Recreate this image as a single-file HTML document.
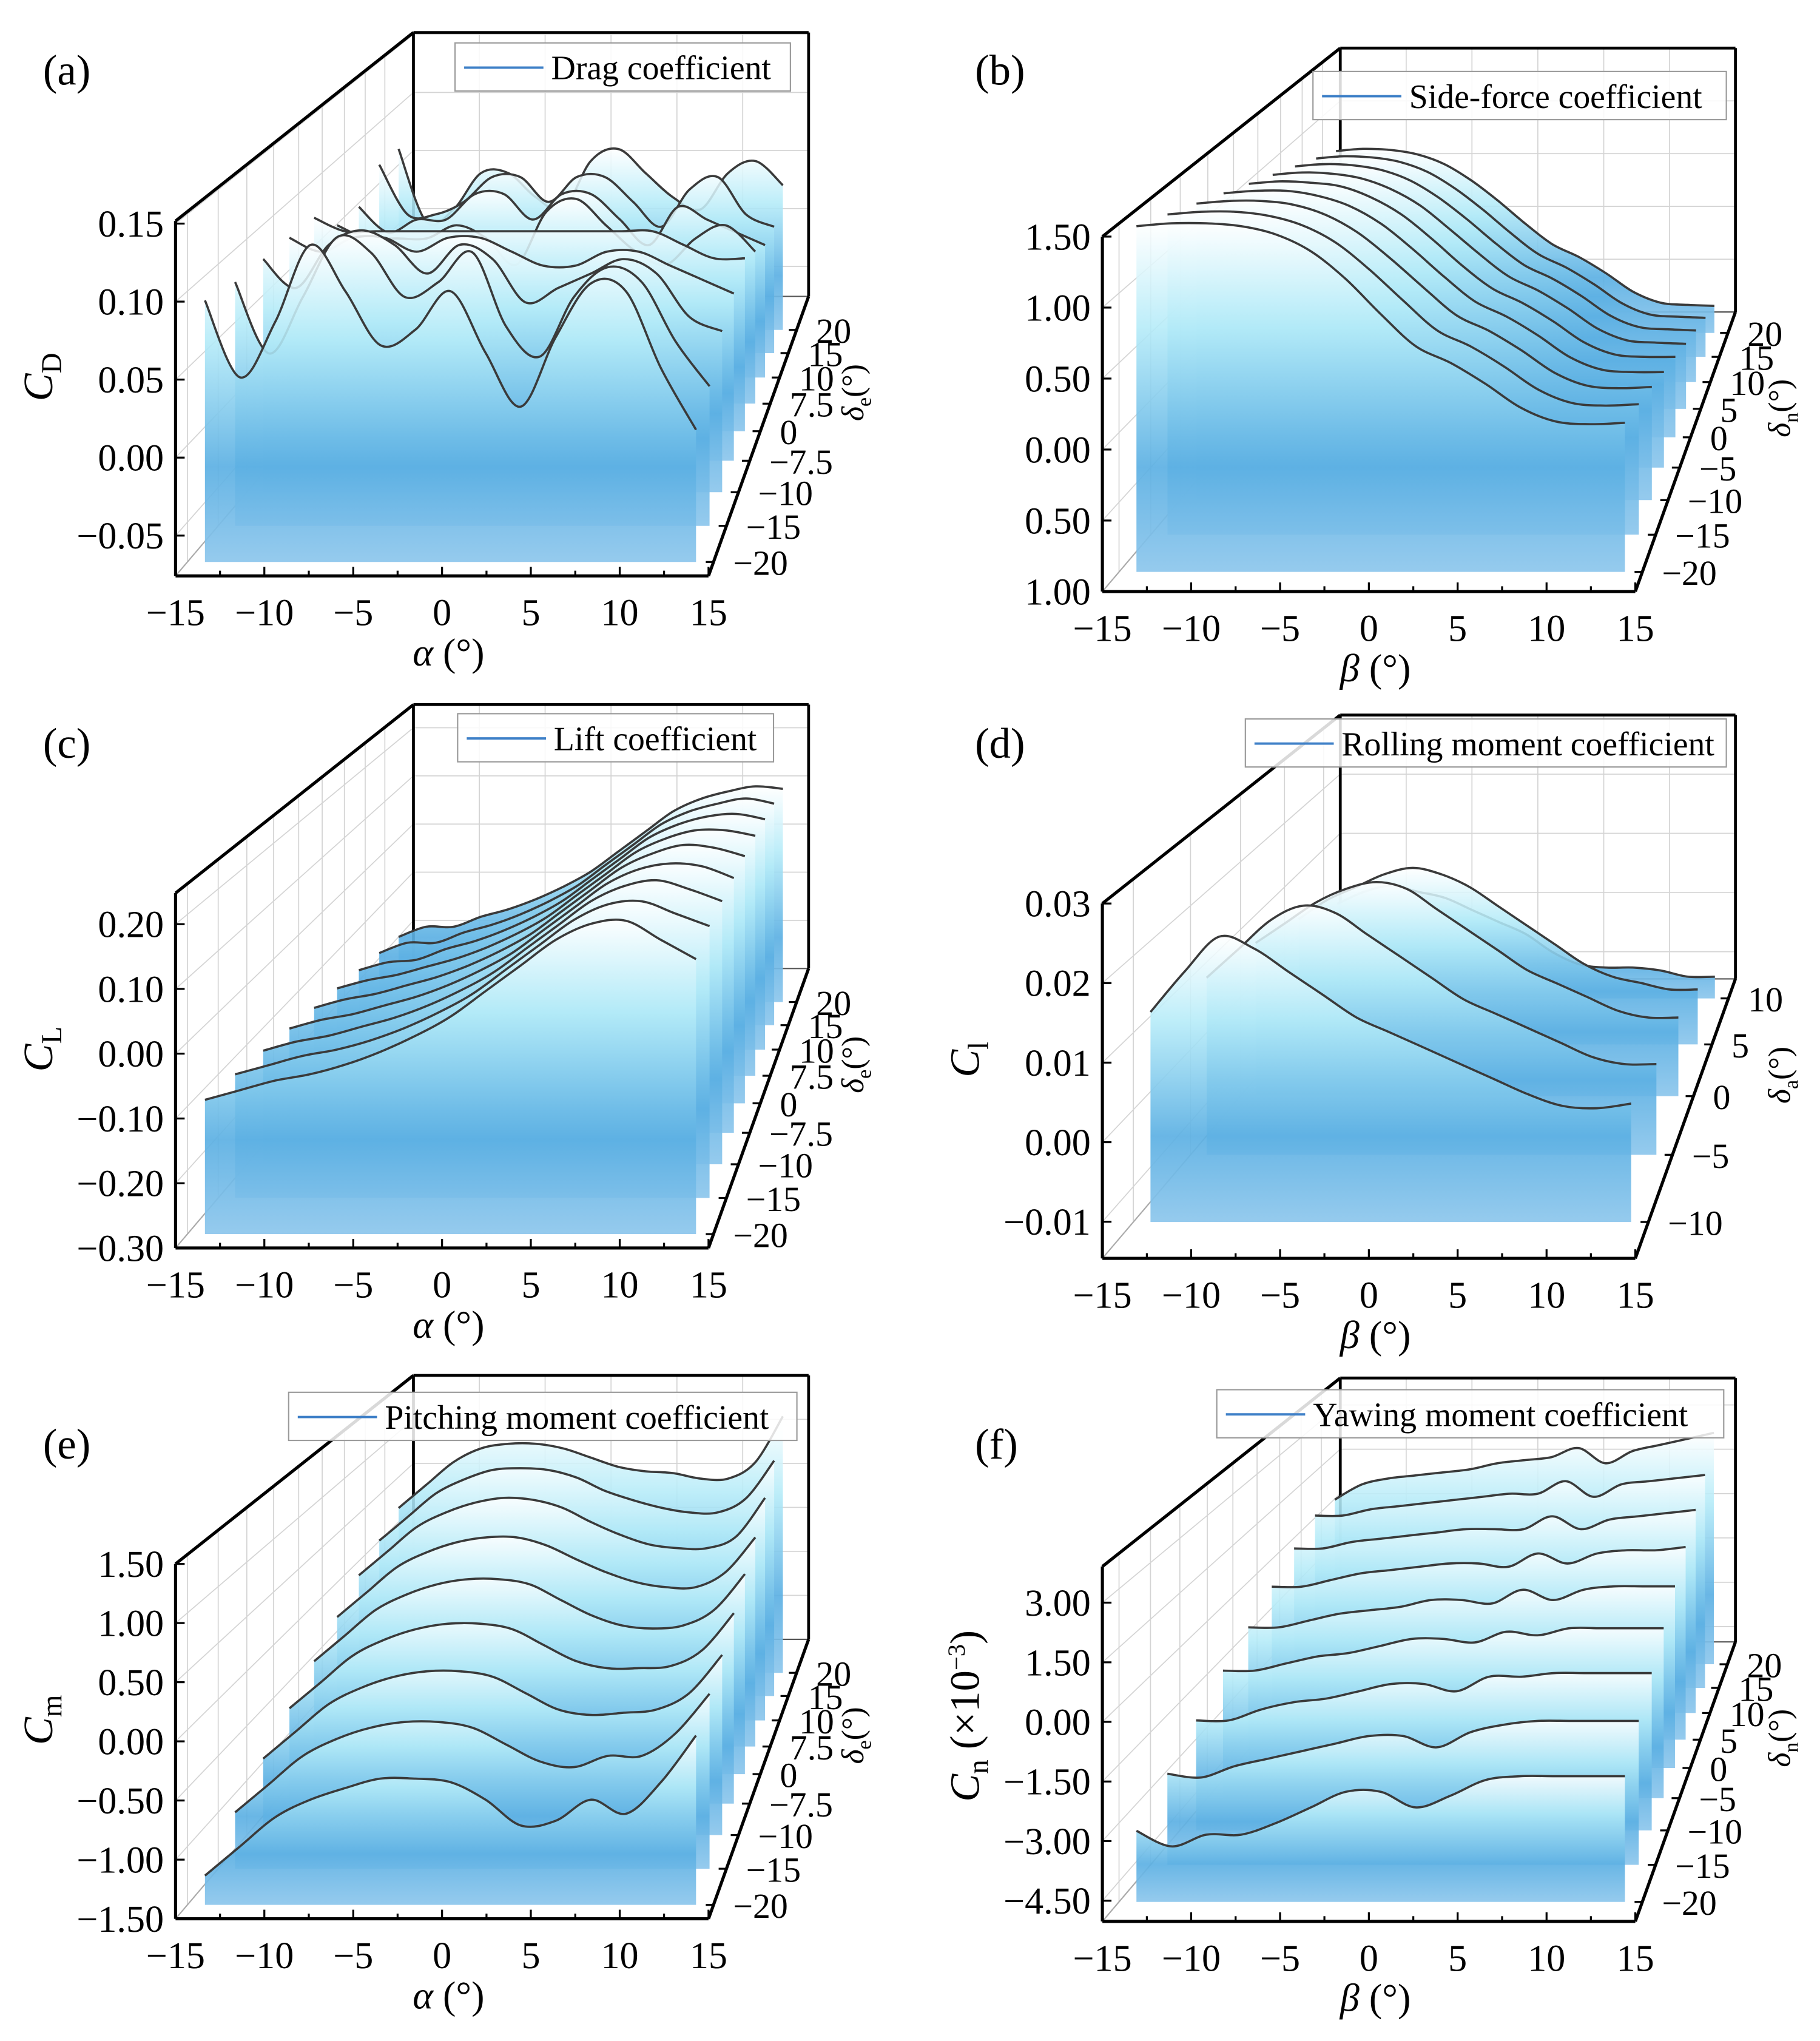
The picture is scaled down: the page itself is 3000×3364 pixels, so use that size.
<!DOCTYPE html>
<html><head><meta charset="utf-8">
<style>
html,body{margin:0;padding:0;background:#fff;}
svg{display:block;font-family:"Liberation Serif","DejaVu Serif",serif;}
</style></head>
<body>
<svg id="fig" xmlns="http://www.w3.org/2000/svg" width="3000" height="3364" viewBox="0 0 1400 1570">
<defs>
<linearGradient id="sliceGrad" x1="0" y1="0" x2="0" y2="1">
<stop offset="0" stop-color="#ffffff" stop-opacity="0.85"/>
<stop offset="0.3" stop-color="#b4ebf8" stop-opacity="0.88"/>
<stop offset="0.7" stop-color="#5cb0e3" stop-opacity="0.92"/>
<stop offset="1" stop-color="#8cc6ec" stop-opacity="0.92"/>
</linearGradient>
</defs>
</svg>
<script>
// ---------- data ----------
const xGrid = [-14,-12,-10,-8,-6,-4,-2,0,2,4,6,8,10,12,14];
const xTickValues = [-15,-10,-5,0,5,10,15];
const xTickLabels = ['\u221215','\u221210','\u22125','0','5','10','15'];

const dragTicks = [0.15,0.10,0.05,0.00,-0.05];
const dragTickLabels = ['0.15','0.10','0.05','0.00','\u22120.05'];
const elevDepthLabels = ['\u221220','\u221215','\u221210','\u22127.5','0','7.5','10','15','20'];
const dragCurves = [
 [0.094,0.044,0.08,0.13,0.10,0.065,0.075,0.10,0.06,0.025,0.07,0.105,0.10,0.05,0.01],
 [0.088,0.04,0.078,0.118,0.108,0.078,0.088,0.108,0.058,0.038,0.078,0.098,0.088,0.048,0.018],
 [0.086,0.066,0.096,0.106,0.096,0.076,0.096,0.086,0.056,0.066,0.076,0.086,0.076,0.046,0.036],
 [0.084,0.074,0.084,0.084,0.074,0.084,0.084,0.074,0.064,0.064,0.074,0.074,0.064,0.054,0.044],
 [0.082,0.072,0.072,0.072,0.072,0.072,0.072,0.072,0.072,0.072,0.072,0.072,0.062,0.052,0.052],
 [0.06,0.05,0.05,0.05,0.06,0.05,0.03,0.07,0.08,0.06,0.04,0.03,0.05,0.06,0.04],
 [0.058,0.038,0.048,0.048,0.068,0.068,0.048,0.068,0.068,0.048,0.028,0.058,0.048,0.038,0.028],
 [0.076,0.036,0.036,0.046,0.066,0.066,0.046,0.066,0.066,0.046,0.026,0.056,0.066,0.036,0.026],
 [0.074,0.014,0.024,0.054,0.054,0.034,0.024,0.064,0.074,0.054,0.034,0.024,0.054,0.064,0.044]
];

const sideTicks = [1.5,1.0,0.5,0.0,-0.5,-1.0];
const sideTickLabels = ['1.50','1.00','0.50','0.00','0.50','1.00'];
const rudderDepthLabels = ['\u221220','\u221215','\u221210','\u22125','0','5','10','15','20'];
const sideCurves = [
 [1.48,1.50,1.50,1.48,1.42,1.30,1.10,0.85,0.62,0.50,0.35,0.18,0.08,0.06,0.07],
 [1.38,1.40,1.40,1.37,1.30,1.17,0.97,0.74,0.52,0.40,0.25,0.08,-0.02,-0.04,-0.03],
 [1.28,1.30,1.30,1.27,1.19,1.05,0.85,0.63,0.42,0.30,0.15,-0.02,-0.12,-0.14,-0.13],
 [1.18,1.20,1.20,1.16,1.08,0.94,0.74,0.52,0.32,0.20,0.05,-0.12,-0.22,-0.24,-0.24],
 [1.08,1.10,1.09,1.06,0.97,0.83,0.63,0.41,0.22,0.10,-0.05,-0.22,-0.32,-0.34,-0.34],
 [0.98,1.00,0.99,0.95,0.86,0.72,0.52,0.31,0.12,0.00,-0.15,-0.32,-0.42,-0.44,-0.45],
 [0.88,0.90,0.89,0.85,0.76,0.61,0.42,0.21,0.02,-0.10,-0.25,-0.42,-0.52,-0.54,-0.55],
 [0.78,0.80,0.79,0.75,0.66,0.51,0.32,0.11,-0.08,-0.20,-0.35,-0.52,-0.62,-0.64,-0.65],
 [0.68,0.70,0.69,0.65,0.56,0.41,0.22,0.01,-0.18,-0.30,-0.45,-0.62,-0.72,-0.74,-0.75]
];

const liftTicks = [0.2,0.1,0.0,-0.1,-0.2,-0.3];
const liftTickLabels = ['0.20','0.10','0.00','\u22120.10','\u22120.20','\u22120.30'];
const liftCurves = [
 [-0.09,-0.075,-0.06,-0.05,-0.035,-0.015,0.01,0.04,0.08,0.12,0.16,0.185,0.19,0.16,0.13],
 [-0.10,-0.085,-0.07,-0.06,-0.045,-0.025,0.0,0.03,0.07,0.11,0.15,0.175,0.18,0.16,0.14],
 [-0.11,-0.095,-0.085,-0.07,-0.055,-0.035,-0.01,0.02,0.06,0.10,0.14,0.165,0.175,0.16,0.14],
 [-0.12,-0.105,-0.095,-0.08,-0.065,-0.045,-0.02,0.01,0.05,0.09,0.13,0.155,0.165,0.16,0.14],
 [-0.13,-0.115,-0.105,-0.09,-0.075,-0.055,-0.03,0.0,0.04,0.08,0.12,0.145,0.16,0.155,0.14],
 [-0.14,-0.125,-0.115,-0.10,-0.085,-0.065,-0.04,-0.01,0.03,0.07,0.11,0.135,0.15,0.15,0.14],
 [-0.15,-0.135,-0.13,-0.11,-0.095,-0.075,-0.05,-0.02,0.02,0.06,0.10,0.125,0.14,0.145,0.135],
 [-0.16,-0.14,-0.14,-0.12,-0.105,-0.085,-0.06,-0.03,0.01,0.05,0.09,0.115,0.13,0.14,0.13],
 [-0.17,-0.15,-0.15,-0.13,-0.115,-0.095,-0.07,-0.04,0.0,0.04,0.08,0.105,0.12,0.13,0.125]
];

const rollTicks = [0.03,0.02,0.01,0.00,-0.01];
const rollTickLabels = ['0.03','0.02','0.01','0.00','\u22120.01'];
const aileronDepthLabels = ['\u221210','\u22125','0','5','10'];
const rollCurves = [
 [0.0127,0.018,0.0225,0.021,0.018,0.015,0.012,0.010,0.008,0.006,0.004,0.002,0.0005,0.0002,0.0008],
 [0.010,0.014,0.018,0.020,0.019,0.016,0.013,0.010,0.007,0.005,0.003,0.001,-0.001,-0.002,-0.002],
 [0.008,0.011,0.014,0.016,0.017,0.016,0.013,0.010,0.007,0.004,0.002,0.000,-0.002,-0.003,-0.003],
 [0.005,0.008,0.010,0.012,0.013,0.012,0.010,0.007,0.004,0.001,-0.002,-0.004,-0.005,-0.006,-0.006],
 [0.001,0.003,0.004,0.003,0.002,0.000,-0.002,-0.004,-0.007,-0.009,-0.0095,-0.0095,-0.010,-0.011,-0.011]
];

const pitchTicks = [1.5,1.0,0.5,0.0,-0.5,-1.0,-1.5];
const pitchTickLabels = ['1.50','1.00','0.50','0.00','\u22120.50','\u22121.00','\u22121.50'];
const pitchCurves = [
 [-1.25,-1.0,-0.75,-0.6,-0.5,-0.42,-0.42,-0.45,-0.6,-0.82,-0.78,-0.6,-0.72,-0.45,-0.05],
 [-1.0,-0.75,-0.5,-0.35,-0.25,-0.2,-0.2,-0.25,-0.4,-0.55,-0.6,-0.5,-0.5,-0.3,0.05],
 [-0.8,-0.55,-0.3,-0.15,-0.05,0.0,0.0,-0.05,-0.2,-0.35,-0.4,-0.38,-0.35,-0.2,0.15],
 [-0.6,-0.35,-0.1,0.05,0.15,0.2,0.2,0.15,0.0,-0.15,-0.22,-0.22,-0.2,-0.05,0.3],
 [-0.4,-0.15,0.1,0.25,0.35,0.4,0.4,0.35,0.2,0.05,-0.05,-0.08,-0.05,0.1,0.45],
 [-0.2,0.05,0.3,0.45,0.55,0.6,0.6,0.52,0.38,0.25,0.15,0.1,0.1,0.25,0.6],
 [0.0,0.25,0.5,0.65,0.75,0.8,0.78,0.7,0.55,0.42,0.32,0.28,0.28,0.4,0.8],
 [0.15,0.4,0.65,0.8,0.9,0.92,0.9,0.82,0.68,0.58,0.5,0.45,0.45,0.6,1.0],
 [0.3,0.55,0.8,0.95,1.0,1.0,0.95,0.85,0.75,0.7,0.68,0.62,0.62,0.8,1.3]
];

const yawTicks = [3.0,1.5,0.0,-1.5,-3.0,-4.5];
const yawTickLabels = ['3.00','1.50','0.00','\u22121.50','\u22123.00','\u22124.50'];
const yawCurves = [
 [-3.2,-3.6,-3.3,-3.3,-3.0,-2.6,-2.2,-2.2,-2.6,-2.3,-1.9,-1.8,-1.8,-1.8,-1.8],
 [-2.6,-2.7,-2.4,-2.2,-2.0,-1.8,-1.6,-1.6,-1.9,-1.5,-1.3,-1.2,-1.2,-1.2,-1.2],
 [-2.0,-2.0,-1.7,-1.5,-1.4,-1.2,-1.0,-1.0,-1.2,-0.8,-0.8,-0.7,-0.7,-0.7,-0.7],
 [-1.4,-1.4,-1.2,-1.0,-0.9,-0.7,-0.5,-0.5,-0.6,-0.3,-0.4,-0.2,-0.2,-0.2,-0.2],
 [-0.9,-0.9,-0.7,-0.5,-0.4,-0.3,-0.1,-0.1,-0.2,0.2,-0.1,0.2,0.3,0.3,0.3],
 [-0.4,-0.4,-0.2,0.0,0.1,0.2,0.3,0.3,0.2,0.6,0.3,0.6,0.7,0.7,0.8],
 [0.1,0.1,0.3,0.4,0.5,0.6,0.7,0.7,0.7,1.1,0.7,1.0,1.1,1.2,1.3],
 [0.5,0.5,0.7,0.8,0.9,1.0,1.1,1.2,1.2,1.6,1.1,1.5,1.6,1.7,1.8],
 [0.4,0.9,1.1,1.2,1.3,1.4,1.6,1.7,1.8,2.1,1.6,2.0,2.2,2.4,2.6]
];

// ---------- layout (not data) ----------
const panels = [
 {id:'a',ox:0,oy:0,ymin:-0.0758,ymax:0.1517,ticks:dragTicks,tl:dragTickLabels,depth:elevDepthLabels,curves:dragCurves,t0:0.05,t1:0.88,xt:'\u03b1',yt:['C','D',''],dt:'e',leg:'Drag coefficient',lx:350,ly:33,lw:258,px:33,py:65},
 {id:'b',ox:713,oy:12,ymin:-1.0,ymax:1.5,ticks:sideTicks,tl:sideTickLabels,depth:rudderDepthLabels,curves:sideCurves,t0:0.07,t1:0.925,xt:'\u03b2',yt:null,dt:'n',leg:'Side-force coefficient',lx:1010,ly:55,lw:318,px:750,py:65},
 {id:'c',ox:0,oy:517,ymin:-0.30,ymax:0.248,ticks:liftTicks,tl:liftTickLabels,depth:elevDepthLabels,curves:liftCurves,t0:0.05,t1:0.88,xt:'\u03b1',yt:['C','L',''],dt:'e',leg:'Lift coefficient',lx:352,ly:549,lw:243,px:33,py:583},
 {id:'d',ox:713,oy:525,ymin:-0.0146,ymax:0.03,ticks:rollTicks,tl:rollTickLabels,depth:aileronDepthLabels,curves:rollCurves,t0:0.13,t1:0.93,xt:'\u03b2',yt:['C','l',''],dt:'a',leg:'Rolling moment coefficient',lx:958,ly:553,lw:370,px:750,py:583},
 {id:'e',ox:0,oy:1033,ymin:-1.5,ymax:1.5,ticks:pitchTicks,tl:pitchTickLabels,depth:elevDepthLabels,curves:pitchCurves,t0:0.05,t1:0.88,xt:'\u03b1',yt:['C','m',''],dt:'e',leg:'Pitching moment coefficient',lx:222,ly:1071,lw:391,px:33,py:1122},
 {id:'f',ox:713,oy:1035,ymin:-5.02,ymax:3.91,ticks:yawTicks,tl:yawTickLabels,depth:rudderDepthLabels,curves:yawCurves,t0:0.07,t1:0.92,xt:'\u03b2',yt:['C','n','yaw'],dt:'n',leg:'Yawing moment coefficient',lx:936,ly:1069,lw:390,px:750,py:1122}
];

const NS='http://www.w3.org/2000/svg';
const svg=document.getElementById('fig');
function mk(tag,attrs,parent){const e=document.createElementNS(NS,tag);for(const k in attrs)e.setAttribute(k,attrs[k]);(parent||svg).appendChild(e);return e;}

function depthT(p,i,n){const q=1.29;const w=n>1?i/(n-1):0;const g=q*w/(1+(q-1)*w);return p.t0+(p.t1-p.t0)*g;}
function proj(p,xv,t,yv){
  const u=(xv+15)/30, v=(yv-p.ymin)/(p.ymax-p.ymin);
  const xf=135+410*u, xb=318+304*u;
  const x=xf+(xb-xf)*t+p.ox;
  const yfl=443-215*t, h=273-70*t;
  return [x, yfl-v*h+p.oy];
}
function smooth(pts){
  let d='';
  for(let i=0;i<pts.length-1;i++){
    const p0=pts[Math.max(0,i-1)],p1=pts[i],p2=pts[i+1],p3=pts[Math.min(pts.length-1,i+2)];
    const c1=[p1[0]+(p2[0]-p0[0])/6,p1[1]+(p2[1]-p0[1])/6];
    const c2=[p2[0]-(p3[0]-p1[0])/6,p2[1]-(p3[1]-p1[1])/6];
    d+=` C${c1[0].toFixed(1)},${c1[1].toFixed(1)} ${c2[0].toFixed(1)},${c2[1].toFixed(1)} ${p2[0].toFixed(1)},${p2[1].toFixed(1)}`;
  }
  return d;
}
function line(a,b,st,w,g){return mk('line',{x1:a[0].toFixed(1),y1:a[1].toFixed(1),x2:b[0].toFixed(1),y2:b[1].toFixed(1),stroke:st,'stroke-width':w},g);}

panels.forEach(p=>{
  const g=mk('g',{});
  
  
  const n=p.curves.length;
  const grid=mk('g',{},g);
  
  
  xTickValues.forEach(xv=>line(proj(p,xv,1,p.ymin),proj(p,xv,1,p.ymax),'#d4d4d4',0.8,grid));
  p.ticks.forEach(yv=>{line(proj(p,-15,1,yv),proj(p,15,1,yv),'#d4d4d4',0.8,grid);line(proj(p,-15,0,yv),proj(p,-15,1,yv),'#d4d4d4',0.8,grid);});
  for(let i=0;i<n;i++){const t=depthT(p,i,n);line(proj(p,-15,t,p.ymin),proj(p,-15,t,p.ymax),'#d4d4d4',0.8,grid);}
  line(proj(p,-15,0,p.ymin),proj(p,-15,1,p.ymin),'#aaaaaa',1,grid);
  line(proj(p,-15,1,p.ymin),proj(p,15,1,p.ymin),'#555',1,grid);
  line(proj(p,-15,1,p.ymax),proj(p,15,1,p.ymax),'#000',2.2,g);
  line(proj(p,-15,1,p.ymin),proj(p,-15,1,p.ymax),'#000',2.2,g);
  line(proj(p,15,1,p.ymin),proj(p,15,1,p.ymax),'#000',2.2,g);
  for(let i=n-1;i>=0;i--){
    const t=depthT(p,i,n);
    const pts=xGrid.map((xv,k)=>proj(p,xv,t,p.curves[i][k]));
    const a=proj(p,xGrid[0],t,p.ymin), b=proj(p,xGrid[xGrid.length-1],t,p.ymin);
    const fill=mk('path',{d:`M${a[0].toFixed(1)},${a[1].toFixed(1)} L${pts[0][0].toFixed(1)},${pts[0][1].toFixed(1)}`+smooth(pts)+` L${b[0].toFixed(1)},${b[1].toFixed(1)} Z`,fill:'url(#sliceGrad)',stroke:'none'},g);
    
    
    const ln=mk('path',{d:`M${pts[0][0].toFixed(1)},${pts[0][1].toFixed(1)}`+smooth(pts),fill:'none',stroke:'#3a3a3a','stroke-width':1.7},g);
    
    
  }
  line(proj(p,-15,0,p.ymin),proj(p,-15,0,p.ymax),'#000',2.4,g);
  line(proj(p,-15,0,p.ymin),proj(p,15,0,p.ymin),'#000',2.4,g);
  line(proj(p,15,0,p.ymin),proj(p,15,1,p.ymin),'#000',2.4,g);
  line(proj(p,-15,0,p.ymax),proj(p,-15,1,p.ymax),'#000',2.4,g);
  for(let xv=-15;xv<=15;xv+=2.5){const q=proj(p,xv,0,p.ymin);line(q,[q[0],q[1]-(xv%5===0?7:4)],'#000',1.5,g);}
  xTickValues.forEach((xv,k)=>{const q=proj(p,xv,0,p.ymin);const tx=mk('text',{x:q[0].toFixed(1),y:(q[1]+38).toFixed(1),'font-size':29,'text-anchor':'middle'},g);tx.textContent=xTickLabels[k];});
  p.ticks.forEach((yv,k)=>{const q=proj(p,-15,0,yv);line(q,[q[0]+7,q[1]],'#000',1.5,g);const tx=mk('text',{x:(q[0]-9).toFixed(1),y:(q[1]+10).toFixed(1),'font-size':29,'text-anchor':'end'},g);tx.textContent=p.tl[k];});
  p.depth.forEach((lab,i)=>{const t=depthT(p,i,n);const q=proj(p,15,t,p.ymin);line(q,[q[0]-6,q[1]],'#000',1.5,g);const tx=mk('text',{x:(q[0]+15).toFixed(1),y:(q[1]+10).toFixed(1),'font-size':27,'text-anchor':'start'},g);tx.textContent=lab;});
  const xt=mk('text',{x:(345+p.ox),y:(512+p.oy),'font-size':30,'text-anchor':'middle'},g);
  
  const xi=mk('tspan',{'font-style':'italic'},xt);xi.textContent=p.xt;
  const xr=mk('tspan',{},xt);xr.textContent=' (\u00b0)';
  if(p.yt){
    const cx=40+p.ox, cy=(p.yt[2]==='yaw'?1320:290+p.oy);
    const yt=mk('text',{x:0,y:0,'font-size':32,'text-anchor':'middle',transform:`translate(${cx},${cy}) rotate(-90)`},g);
    
    const c=mk('tspan',{'font-style':'italic'},yt);c.textContent=p.yt[0];
    const s=mk('tspan',{'font-size':22,dy:7},yt);s.textContent=p.yt[1];
    if(p.yt[2]==='yaw'){
      const r=mk('tspan',{dy:-7},yt);r.textContent=' (\u00d710';
      const e=mk('tspan',{'font-size':19,dy:-11},yt);e.textContent='\u22123';
      const r2=mk('tspan',{dy:11},yt);r2.textContent=')';
    }
  }
  const dt=mk('text',{x:0,y:0,'font-size':24,'text-anchor':'middle',transform:`translate(${(664+p.ox)},${(302+p.oy)}) rotate(-90)`},g);
  
  const d1=mk('tspan',{'font-style':'italic'},dt);d1.textContent='\u03b4';
  const d2=mk('tspan',{'font-size':16,dy:6},dt);d2.textContent=p.dt;
  const d3=mk('tspan',{dy:-6},dt);d3.textContent='(\u00b0)';
  const lg=mk('g',{},g);
  
  mk('rect',{x:p.lx,y:p.ly,width:p.lw,height:37,fill:'#ffffff','fill-opacity':0.85,stroke:'#9a9a9a','stroke-width':1},lg);
  mk('line',{x1:p.lx+7,y1:p.ly+19,x2:p.lx+68,y2:p.ly+19,stroke:'#3d7fc7','stroke-width':1.8},lg);
  const lt=mk('text',{x:p.lx+74,y:p.ly+28,'font-size':26},lg);lt.textContent=p.leg;
  const pl=mk('text',{x:p.px,y:p.py,'font-size':33},g);
  pl.textContent='('+p.id+')';
  
});
</script>
</body></html>
